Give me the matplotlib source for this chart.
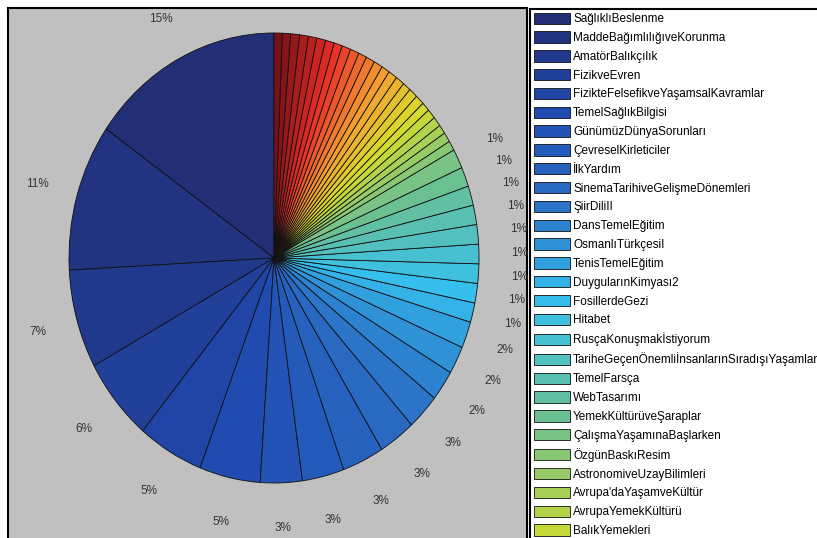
import matplotlib
matplotlib.use('Agg')
import matplotlib.pyplot as plt
import numpy as np
from matplotlib.colors import LinearSegmentedColormap

plt.rcParams['font.family'] = ['Liberation Sans', 'DejaVu Sans']

# ---------------- data ----------------
course_names = [
    "SağlıklıBeslenme",
    "MaddeBağımlılığıveKorunma",
    "AmatörBalıkçılık",
    "FizikveEvren",
    "FizikteFelsefikveYaşamsalKavramlar",
    "TemelSağlıkBilgisi",
    "GünümüzDünyaSorunları",
    "ÇevreselKirleticiler",
    "İlkYardım",
    "SinemaTarihiveGelişmeDönemleri",
    "ŞiirDiliII",
    "DansTemelEğitim",
    "OsmanlıTürkçesiI",
    "TenisTemelEğitim",
    "DuygularınKimyası2",
    "FosillerdeGezi",
    "Hitabet",
    "RusçaKonuşmakİstiyorum",
    "TariheGeçenÖnemliİnsanlarınSıradışıYaşamları",
    "TemelFarsça",
    "WebTasarımı",
    "YemekKültürüveŞaraplar",
    "ÇalışmaYaşamınaBaşlarken",
    "ÖzgünBaskıResim",
    "AstronomiveUzayBilimleri",
    "Avrupa'daYaşamveKültür",
    "AvrupaYemekKültürü",
    "BalıkYemekleri",
]

# share of each course (percent), in pie order (counter-clockwise from 12 o'clock)
labeled_shares = [15.3, 10.6, 7.1, 6.0, 5.2, 4.8, 3.3, 3.3, 3.3, 2.9, 2.6,
                  2.2, 2.0, 1.9, 1.4, 1.4, 1.4, 1.4, 1.4, 1.4, 1.4, 1.4, 1.4]
small_shares = [0.7, 0.7, 0.65, 0.7, 0.7, 0.65, 0.7, 0.7, 0.65, 0.7, 0.7, 0.65,
                0.7, 0.7, 0.65, 0.7, 0.7, 0.65, 0.7, 0.7, 0.65, 0.7, 0.7, 0.65, 0.65]
shares = labeled_shares + small_shares

# ---------------- layout ----------------
W, H = 817, 538
fig = plt.figure(figsize=(W / 100, H / 100), dpi=100)
fig.patch.set_facecolor('white')

box_l, box_r, box_t, box_b = 8, 527, 8, 570      # grey plot box (pixels)
cx, cy, rx, ry = 274, 258, 205, 225              # pie centre / radii (pixels)

ax = fig.add_axes([box_l / W, 1 - box_b / H, (box_r - box_l) / W, (box_b - box_t) / H])
ax.set_facecolor('#c0c0c0')

cmap = LinearSegmentedColormap.from_list('muted_jet', [
    (0.00, '#222e76'), (0.10, '#1f4ab0'), (0.20, '#2a6cc4'), (0.32, '#36c0ee'),
    (0.45, '#6cc090'), (0.60, '#d6dc2a'), (0.72, '#f4a232'), (0.86, '#e62c24'),
    (1.00, '#781018')])
n = len(shares)
colors = [cmap(i / (n - 1)) for i in range(n)]

wedges, _ = ax.pie(shares, colors=colors, startangle=90, counterclock=True,
                   radius=1, frame=True,
                   wedgeprops=dict(edgecolor='#101010', linewidth=0.6))

vals = np.array(shares, dtype=float)
pcts = vals / vals.sum() * 100
for w, p in zip(wedges, pcts):
    if p < 1:
        continue
    th = np.deg2rad((w.theta1 + w.theta2) / 2)
    ax.text(1.2 * np.cos(th), 1.2 * np.sin(th), f"{int(np.floor(p + 0.5))}%",
            ha='center', va='center', fontsize=8.5, color='#333333')

ax.set_aspect('auto')
ax.set_xlim((box_l - cx) / rx, (box_r - cx) / rx)
ax.set_ylim((cy - box_b) / ry, (cy - box_t) / ry)
ax.set_xticks([])
ax.set_yticks([])
for s in ax.spines.values():
    s.set_visible(True)
    s.set_color('black')
    s.set_linewidth(1.5)

leg = fig.legend(wedges[:len(course_names)], course_names, loc='upper left',
                 bbox_to_anchor=(530 / W, 1 - 9 / H), bbox_transform=fig.transFigure,
                 frameon=True, fancybox=False, framealpha=1, edgecolor='black',
                 fontsize=8.5, handlelength=3.1, handleheight=1.1,
                 handletextpad=0.25, labelspacing=0.52, borderpad=0.3,
                 borderaxespad=0)
leg.get_frame().set_linewidth(1.5)

fig.savefig('out.png', dpi=100, facecolor='white')
